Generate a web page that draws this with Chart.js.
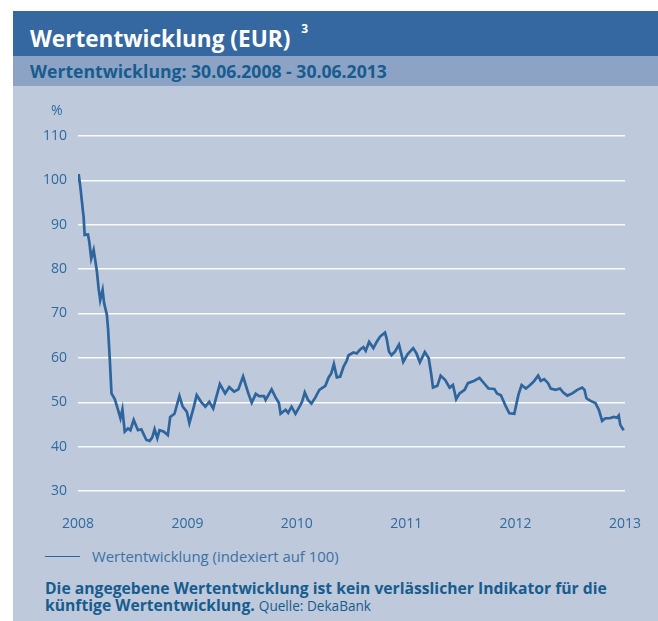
<!DOCTYPE html>
<html>
<head>
<meta charset="utf-8">
<script src="https://cdn.jsdelivr.net/npm/chart.js@4/dist/chart.umd.min.js"></script>
<style>
  body { margin: 0; width: 658px; height: 621px; background: #fff; overflow: hidden; font-family: "Open Sans", "Noto Sans", sans-serif; position: relative; }
  .abs { position: absolute; }
  #bar { left: 13px; top: 11px; width: 645px; height: 45px; background: #3567a0; color: #fff; font-weight: bold; font-size: 22.6px; line-height: 45px; }
  #bar span { padding-left: 17px; }
  #bar sup { font-size: 12px; position: relative; top: -5px; margin-left: 11px; }
  #sub { left: 13px; top: 56px; width: 645px; height: 30px; background: #8ca3c6; color: #175c8e; font-weight: bold; font-size: 17.6px; line-height: 31px; }
  #sub span { padding-left: 17px; }
  #panel { left: 13px; top: 86px; width: 645px; height: 535px; background: #bec9db; }
  #wrap { left: 13px; top: 86px; width: 645px; height: 449px; }
  #pct { left: 51px; top: 100px; font-size: 14px; color: #2e6b9e; }
  #legLine { left: 45px; top: 556px; width: 35px; height: 1px; background: #2d659c; }
  #legText { left: 92px; top: 546px; font-size: 14.9px; color: #3a72a6; }
  #foot { left: 45px; top: 580px; font-size: 15.7px; line-height: 17px; color: #175c8e; }
  #foot b { font-weight: bold; }
  #foot span { font-size: 13.6px; }
</style>
</head>
<body>
<div id="bar" class="abs"><span>Wertentwicklung (EUR)</span><sup>3</sup></div>
<div id="sub" class="abs"><span>Wertentwicklung: 30.06.2008 - 30.06.2013</span></div>
<div id="panel" class="abs"></div>
<div id="wrap" class="abs"><canvas id="chart" width="645" height="449"></canvas></div>
<div id="pct" class="abs">%</div>
<div id="legLine" class="abs"></div>
<div id="legText" class="abs">Wertentwicklung (indexiert auf 100)</div>
<div id="foot" class="abs"><b>Die angegebene Wertentwicklung ist kein verlässlicher Indikator für die<br>künftige Wertentwicklung.</b> <span>Quelle: DekaBank</span></div>

<script>
// time position in decimal years (axis 2008..2013)
const yearPos = [
  2008.000, 2008.006, 2008.021, 2008.036, 2008.052, 2008.061, 2008.091, 2008.103, 2008.121, 2008.143,
  2008.157, 2008.173, 2008.188, 2008.203, 2008.225, 2008.239, 2008.264, 2008.275, 2008.291, 2008.306,
  2008.336, 2008.366, 2008.388, 2008.406, 2008.427, 2008.457, 2008.479, 2008.509, 2008.548, 2008.579,
  2008.625, 2008.655, 2008.679, 2008.700, 2008.725, 2008.745, 2008.782, 2008.821, 2008.843, 2008.882,
  2008.927, 2008.957, 2008.994, 2009.018, 2009.055, 2009.085, 2009.125, 2009.164, 2009.200, 2009.236,
  2009.266, 2009.297, 2009.345, 2009.382, 2009.427, 2009.466, 2009.509, 2009.557, 2009.588, 2009.625,
  2009.655, 2009.700, 2009.715, 2009.770, 2009.806, 2009.836, 2009.852, 2009.897, 2009.921, 2009.952,
  2009.988, 2010.025, 2010.048, 2010.073, 2010.103, 2010.134, 2010.170, 2010.206, 2010.261, 2010.291,
  2010.315, 2010.339, 2010.366, 2010.397, 2010.427, 2010.457, 2010.473, 2010.518, 2010.548, 2010.579,
  2010.609, 2010.630, 2010.661, 2010.700, 2010.730, 2010.761, 2010.806, 2010.821, 2010.843, 2010.866,
  2010.897, 2010.934, 2010.973, 2011.012, 2011.064, 2011.094, 2011.125, 2011.170, 2011.206, 2011.230,
  2011.245, 2011.285, 2011.315, 2011.357, 2011.397, 2011.427, 2011.457, 2011.488, 2011.534, 2011.564,
  2011.618, 2011.670, 2011.721, 2011.752, 2011.806, 2011.830, 2011.866, 2011.912, 2011.943, 2011.988,
  2012.025, 2012.055, 2012.094, 2012.125, 2012.164, 2012.206, 2012.230, 2012.261, 2012.297, 2012.321,
  2012.366, 2012.406, 2012.436, 2012.473, 2012.518, 2012.564, 2012.609, 2012.630, 2012.648, 2012.685,
  2012.730, 2012.761, 2012.791, 2012.821, 2012.861, 2012.897, 2012.927, 2012.943, 2012.957, 2012.988
];

// indexed value (start = 100)
const indexValues = [
  100.0, 101.4, 98.6, 95.2, 91.5, 87.7, 87.8, 86.2, 82.4, 84.3,
  82.1, 79.4, 75.7, 73.0, 75.3, 72.3, 69.7, 66.5, 59.5, 52.0,
  50.7, 48.3, 46.4, 48.4, 43.4, 44.1, 43.7, 46.0, 43.7, 43.9,
  41.5, 41.3, 42.1, 43.9, 41.9, 43.7, 43.4, 42.6, 46.7, 47.4,
  51.4, 49.0, 47.9, 45.3, 48.6, 51.6, 50.1, 49.0, 50.1, 48.6,
  51.3, 54.1, 52.0, 53.4, 52.4, 52.9, 55.8, 52.0, 49.9, 51.9,
  51.4, 51.4, 50.5, 52.9, 51.1, 49.9, 47.4, 48.3, 47.6, 49.0,
  47.4, 49.0, 50.1, 52.2, 50.5, 49.7, 51.1, 52.8, 53.7, 55.6,
  56.5, 58.6, 55.6, 55.8, 58.0, 59.4, 60.6, 61.2, 61.0, 61.9,
  62.4, 61.6, 63.6, 62.2, 63.6, 64.8, 65.7, 64.4, 61.4, 60.6,
  61.4, 63.0, 59.1, 60.8, 62.2, 61.0, 59.0, 61.3, 59.9, 56.1,
  53.3, 53.7, 56.0, 55.0, 53.3, 53.9, 50.7, 52.0, 52.8, 54.3,
  54.8, 55.5, 54.0, 53.1, 53.0, 52.0, 51.6, 49.0, 47.5, 47.4,
  51.6, 53.9, 53.1, 53.7, 54.6, 56.0, 54.8, 55.2, 54.3, 53.1,
  52.8, 53.1, 52.2, 51.5, 52.0, 52.8, 53.3, 52.8, 50.9, 50.3,
  49.8, 48.3, 45.8, 46.4, 46.4, 46.7, 46.5, 47.0, 44.9, 43.7
];

const xTicks = [2008, 2009, 2010, 2011, 2012, 2013];
const yTicks = [30, 40, 50, 60, 70, 80, 90, 100, 110];

const tickColor = "#2e6b9e";
const tickFont = { family: "'Open Sans', 'Noto Sans', sans-serif", size: 14 };

new Chart(document.getElementById("chart"), {
    type: "line",
    data: {
        datasets: [{
            label: "Wertentwicklung (indexiert auf 100)",
            data: yearPos.map((x, i) => ({ x: x, y: indexValues[i] })),
            borderColor: "#2d659c",
            borderWidth: 2.7,
            pointRadius: 0,
            tension: 0,
            fill: false
        }]
    },
    options: {
        responsive: false,
        animation: false,
        devicePixelRatio: 1,
        layout: { padding: { left: 0, right: 30, top: 50, bottom: 0 } },
        plugins: { legend: { display: false }, tooltip: { enabled: false } },
        scales: {
            x: {
                type: "linear",
                min: xTicks[0],
                max: xTicks[xTicks.length - 1],
                afterBuildTicks: s => { s.ticks = xTicks.map(v => ({ value: v })); },
                afterFit: s => { s.height = 44; },
                grid: { display: false },
                border: { display: false },
                ticks: {
                    color: tickColor,
                    font: tickFont,
                    padding: 17,
                    maxRotation: 0,
                    callback: v => String(v)
                }
            },
            y: {
                min: yTicks[0],
                max: yTicks[yTicks.length - 1],
                afterBuildTicks: s => { s.ticks = yTicks.map(v => ({ value: v })); },
                afterFit: s => { s.width = 65; },
                grid: { color: "rgba(255,255,255,0.92)", lineWidth: 1.5, drawTicks: false },
                border: { display: false },
                ticks: {
                    color: tickColor,
                    font: tickFont,
                    padding: 11,
                    callback: v => String(v)
                }
            }
        }
    }
});
</script>
</body>
</html>
